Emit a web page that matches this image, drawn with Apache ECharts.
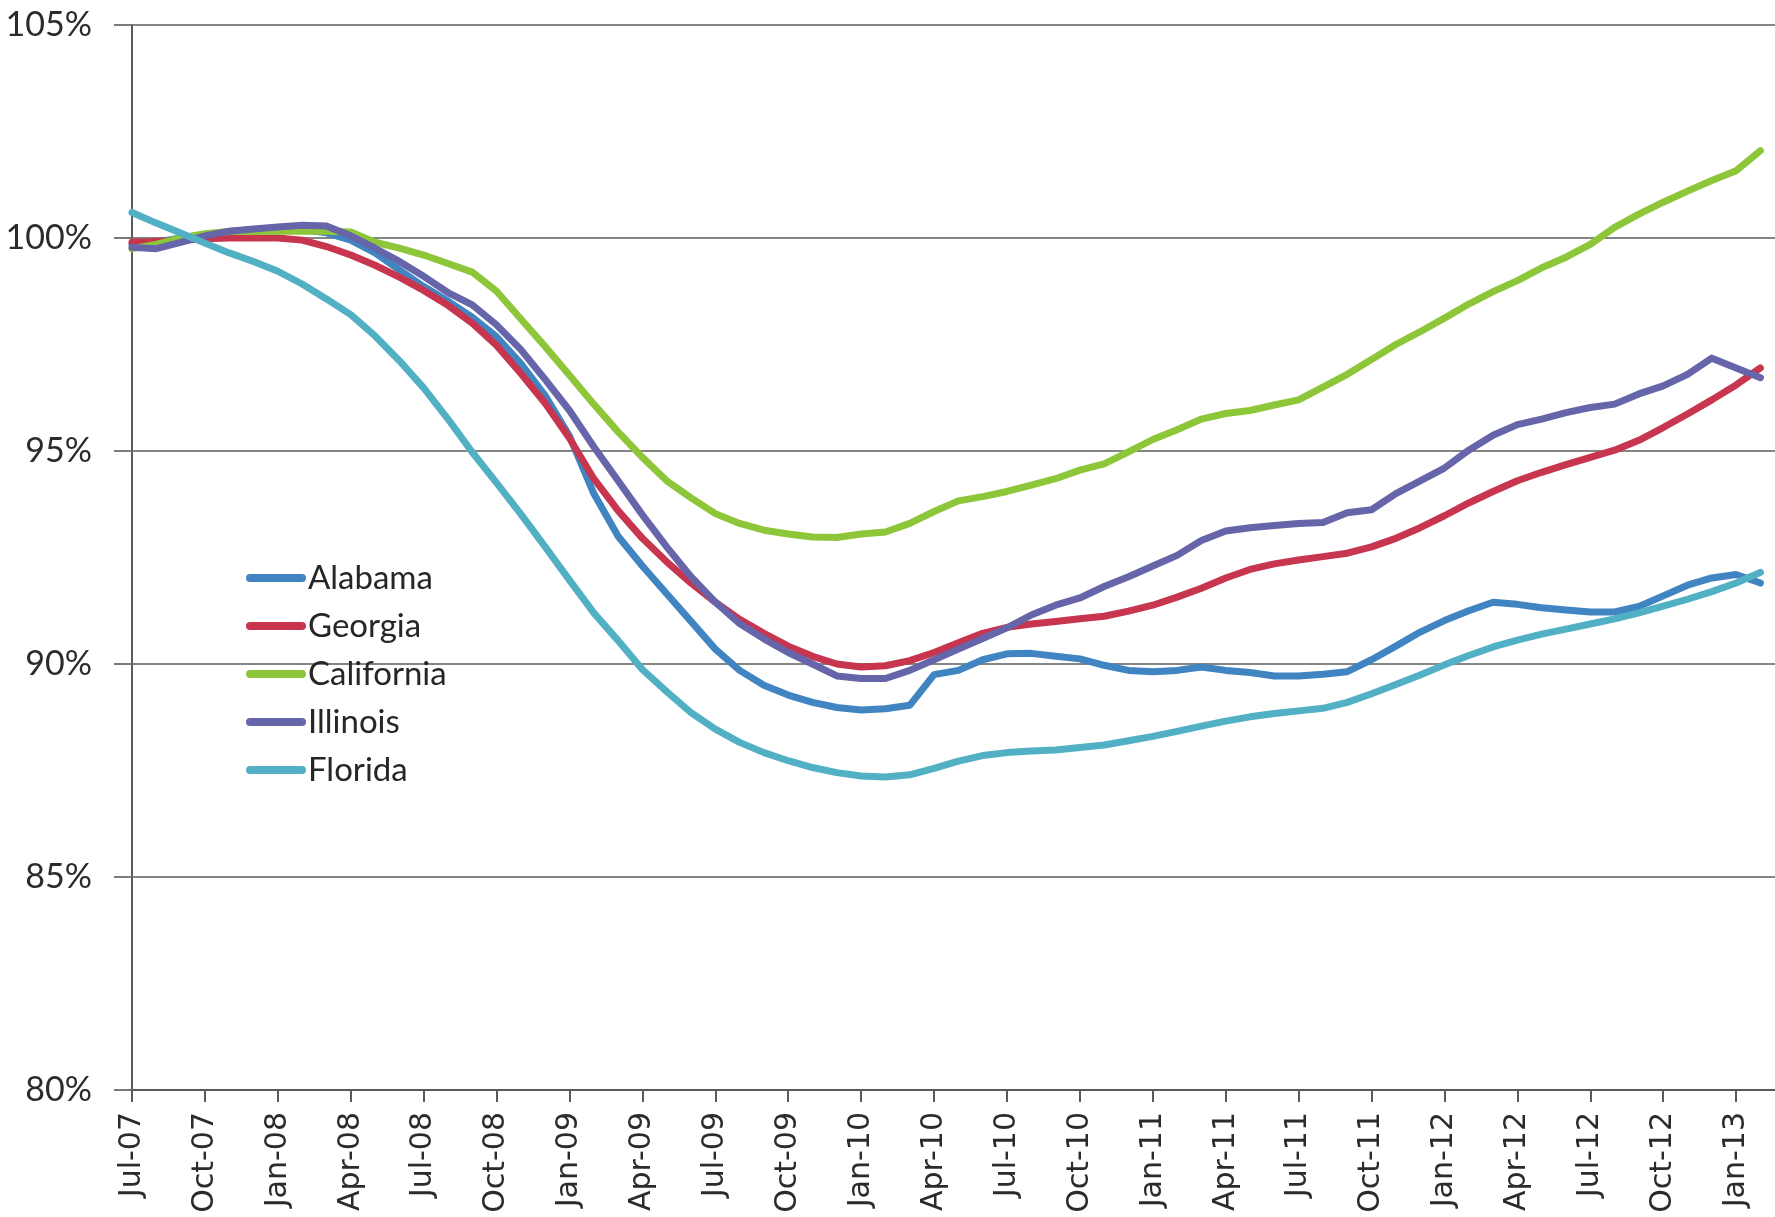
<!DOCTYPE html>
<html>
<head>
<meta charset="utf-8">
<title>House price index by state, Jul-07 to Feb-13</title>
<script src="https://cdn.jsdelivr.net/npm/echarts@6/dist/echarts.min.js"></script>
<style>
  html, body { margin: 0; padding: 0; background: #ffffff; }
  #chart { width: 1775px; height: 1217px; }
</style>
</head>
<body>
<div id="chart"></div>
<script>
// Monthly index values, Jul-07 .. Feb-13 (percent of Jul-07 level)
const months = [
  'Jul-07','Aug-07','Sep-07','Oct-07','Nov-07','Dec-07',
  'Jan-08','Feb-08','Mar-08','Apr-08','May-08','Jun-08','Jul-08','Aug-08','Sep-08','Oct-08','Nov-08','Dec-08',
  'Jan-09','Feb-09','Mar-09','Apr-09','May-09','Jun-09','Jul-09','Aug-09','Sep-09','Oct-09','Nov-09','Dec-09',
  'Jan-10','Feb-10','Mar-10','Apr-10','May-10','Jun-10','Jul-10','Aug-10','Sep-10','Oct-10','Nov-10','Dec-10',
  'Jan-11','Feb-11','Mar-11','Apr-11','May-11','Jun-11','Jul-11','Aug-11','Sep-11','Oct-11','Nov-11','Dec-11',
  'Jan-12','Feb-12','Mar-12','Apr-12','May-12','Jun-12','Jul-12','Aug-12','Sep-12','Oct-12','Nov-12','Dec-12',
  'Jan-13','Feb-13'
];

const alabama = [
  99.85, 99.9, 100.0, 100.08, 100.15, 100.2, 100.22, 100.2, 100.12, 99.95, 99.65, 99.25,
  98.86, 98.52, 98.14, 97.68, 97.05, 96.3, 95.35, 94.0, 93.0, 92.3, 91.65, 91.0,
  90.35, 89.85, 89.5, 89.27, 89.1, 88.98, 88.92, 88.95, 89.03, 89.75, 89.85, 90.1,
  90.24, 90.25, 90.18, 90.12, 89.97, 89.85, 89.82, 89.85, 89.93, 89.85, 89.8, 89.72,
  89.72, 89.76, 89.82, 90.1, 90.42, 90.75, 91.02, 91.25, 91.45, 91.4, 91.32, 91.27,
  91.22, 91.22, 91.35, 91.6, 91.85, 92.02, 92.1, 91.9
];

const georgia = [
  99.9, 99.92, 99.95, 99.98, 100.0, 100.0, 100.0, 99.95, 99.8, 99.6, 99.36, 99.08,
  98.77, 98.42, 98.0, 97.48, 96.82, 96.12, 95.3, 94.35, 93.6, 92.95, 92.4, 91.9,
  91.45, 91.05, 90.72, 90.42, 90.18, 90.0, 89.93, 89.96, 90.08, 90.27, 90.5, 90.72,
  90.86, 90.94, 91.0, 91.06, 91.12, 91.24, 91.38, 91.57, 91.78, 92.02, 92.22, 92.35,
  92.44, 92.52, 92.6, 92.75, 92.95, 93.2, 93.48, 93.78, 94.05, 94.3, 94.5, 94.68,
  94.85, 95.02, 95.25, 95.55, 95.87, 96.2, 96.55, 96.95
];

const california = [
  99.75, 99.85, 100.0, 100.1, 100.15, 100.15, 100.16, 100.16, 100.16, 100.14, 99.9, 99.76,
  99.6, 99.4, 99.2, 98.75, 98.1, 97.45, 96.78, 96.1, 95.45, 94.85, 94.3, 93.9,
  93.53, 93.3, 93.14, 93.05, 92.98, 92.97, 93.05, 93.1, 93.3, 93.58, 93.83, 93.93,
  94.05, 94.2, 94.35, 94.55, 94.7, 94.98, 95.27, 95.5, 95.75, 95.88, 95.95, 96.08,
  96.2, 96.5, 96.8, 97.15, 97.5, 97.8, 98.12, 98.45, 98.74, 99.0, 99.3, 99.55,
  99.85, 100.25, 100.56, 100.84, 101.1, 101.35, 101.58, 102.05
];

const illinois = [
  99.78, 99.75, 99.9, 100.05, 100.16, 100.21, 100.26, 100.3, 100.28, 100.05, 99.76, 99.45,
  99.1, 98.72, 98.43, 97.96, 97.38, 96.68, 95.95, 95.1, 94.3, 93.5, 92.75, 92.05,
  91.45, 90.95, 90.59, 90.27, 90.0, 89.72, 89.66, 89.66, 89.85, 90.1, 90.35, 90.6,
  90.85, 91.15, 91.38, 91.55, 91.82, 92.05, 92.3, 92.55, 92.9, 93.12, 93.2, 93.25,
  93.3, 93.32, 93.55, 93.62, 94.0, 94.3, 94.6, 95.02, 95.37, 95.62, 95.75, 95.9,
  96.02, 96.1, 96.34, 96.53, 96.8, 97.18, 96.95, 96.72
];

const florida = [
  100.6, 100.35, 100.12, 99.88, 99.65, 99.45, 99.22, 98.92, 98.57, 98.2, 97.7, 97.12,
  96.48, 95.75, 94.97, 94.25, 93.52, 92.75, 91.97, 91.2, 90.55, 89.87, 89.35, 88.86,
  88.47, 88.16, 87.92, 87.73, 87.57, 87.45, 87.37, 87.35, 87.4, 87.55, 87.72, 87.85,
  87.92, 87.96, 87.98, 88.04, 88.1, 88.2, 88.3, 88.42, 88.54, 88.66, 88.76, 88.84,
  88.9, 88.96, 89.1, 89.3, 89.52, 89.74, 89.98, 90.2, 90.4, 90.56, 90.7, 90.82,
  90.94, 91.06, 91.2, 91.36, 91.52, 91.7, 91.9, 92.15
];

const seriesNames = ['Alabama', 'Georgia', 'California', 'Illinois', 'Florida'];
const seriesValues = [alabama, georgia, california, illinois, florida];
const seriesColors = ['#4084c2', '#c7354f', '#8ec63a', '#6765aa', '#52b0c5'];

// y-axis range and step (percent)
const yTicks = { min: 80, max: 105, step: 5 };

// pair each value with its month index so the x axis can run past the last month
function toPairs(values) {
  return values.map((v, i) => [i, v]);
}

const chart = echarts.init(document.getElementById('chart'), null, { renderer: 'canvas' });

const capsule = 'path://M4,0 L56,0 A4,4 0 0 1 56,8 L4,8 A4,4 0 0 1 4,0 Z';

chart.setOption({
  animation: false,
  backgroundColor: '#ffffff',
  grid: { left: 132, right: 0, top: 25, bottom: 127, containLabel: false },
  legend: {
    orient: 'vertical',
    left: 246,
    top: 558,
    padding: 0,
    itemWidth: 60,
    itemHeight: 8,
    itemGap: 8,
    icon: capsule,
    textStyle: {
      fontFamily: 'Lato, "Open Sans", sans-serif',
      fontSize: 33,
      lineHeight: 40,
      color: '#262626',
      padding: [0, 0, 0, -3]
    },
    data: seriesNames
  },
  xAxis: {
    type: 'value',
    min: 0,
    max: 67.6,
    interval: 3,
    axisLine: { show: true, onZero: false, lineStyle: { color: '#5a5a5a', width: 2 } },
    axisTick: { show: true, length: 12, lineStyle: { color: '#5a5a5a', width: 2 } },
    splitLine: { show: false },
    axisLabel: {
      rotate: 90,
      margin: 22,
      fontFamily: '"DejaVu Sans", sans-serif',
      fontSize: 30,
      color: '#2b2b2b',
      showMaxLabel: false,
      formatter: function (v) {
        return Number.isInteger(v) && months[v] ? months[v] : '';
      }
    }
  },
  yAxis: {
    type: 'value',
    min: yTicks.min,
    max: yTicks.max,
    interval: yTicks.step,
    axisLine: { show: true, lineStyle: { color: '#5a5a5a', width: 2 } },
    axisTick: { show: true, length: 18, lineStyle: { color: '#7a7a7a', width: 2 } },
    splitLine: { show: true, lineStyle: { color: '#858585', width: 2 } },
    axisLabel: {
      margin: 40,
      fontFamily: 'Lato, "Open Sans", sans-serif',
      fontSize: 34,
      color: '#2b2b2b',
      formatter: '{value}%'
    }
  },
  series: seriesNames.map((name, k) => ({
    name: name,
    type: 'line',
    data: toPairs(seriesValues[k]),
    symbol: 'none',
    showSymbol: false,
    smooth: false,
    color: seriesColors[k],
    lineStyle: { width: 7, color: seriesColors[k], cap: 'round', join: 'round' },
    itemStyle: { color: seriesColors[k] },
    emphasis: { disabled: true }
  }))
});
</script>
</body>
</html>
